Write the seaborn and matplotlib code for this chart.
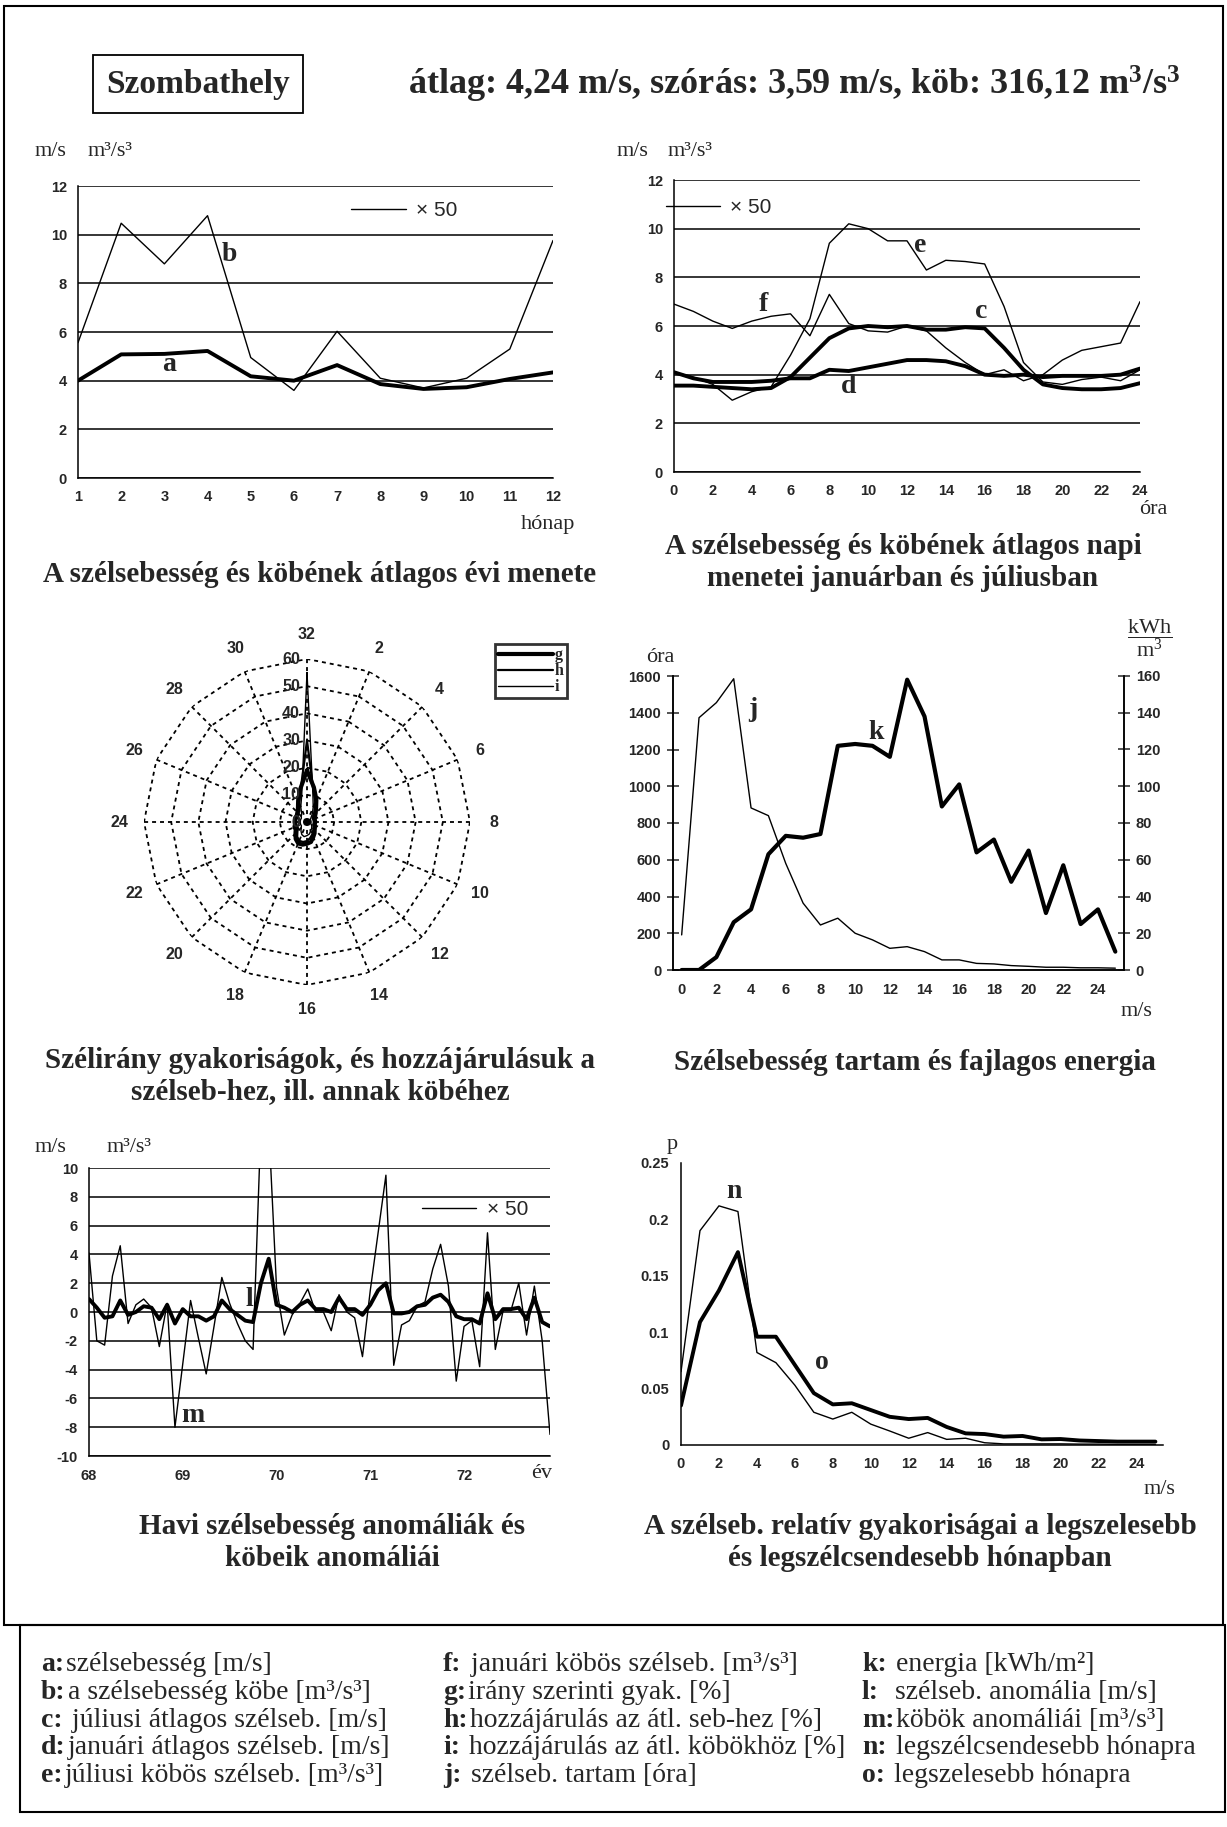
""" Szombathely wind climate sheet redrawn with seaborn. """
import numpy as np
import matplotlib
matplotlib.use('Agg')
import matplotlib.pyplot as plt
from matplotlib.patches import Rectangle
import seaborn as sns

# ---- data ----
months = list(range(1, 13))
a_speed = [4.0, 5.08, 5.1, 5.22, 4.18, 4.0, 4.64, 3.86, 3.66, 3.73, 4.07, 4.34]
b_cube = [5.56, 10.47, 8.8, 10.78, 4.95, 3.6, 6.03, 4.1, 3.7, 4.1, 5.3, 9.76]

hours = list(range(0, 25))
c_july = [3.55, 3.55, 3.5, 3.45, 3.4, 3.45, 3.9, 4.7, 5.5, 5.9, 6.0, 5.95, 6.0,
          5.85, 5.85, 5.95, 5.9, 5.1, 4.2, 3.6, 3.45, 3.4, 3.4, 3.45, 3.65]
d_jan = [4.1, 3.85, 3.7, 3.7, 3.7, 3.75, 3.85, 3.85, 4.2, 4.15, 4.3, 4.45, 4.6,
         4.6, 4.55, 4.35, 4.0, 3.95, 4.0, 3.9, 3.95, 3.95, 3.95, 4.0, 4.25]
e_july_cube = [4.1, 3.9, 3.6, 2.95, 3.3, 3.5, 4.8, 6.3, 9.4, 10.2, 10.0, 9.5, 9.5,
               8.3, 8.7, 8.65, 8.55, 6.8, 4.5, 3.7, 3.6, 3.8, 3.9, 3.75, 4.2]
f_jan_cube = [6.9, 6.6, 6.2, 5.9, 6.2, 6.4, 6.5, 5.6, 7.3, 6.1, 5.8, 5.75, 6.0,
              5.8, 5.1, 4.5, 4.0, 4.2, 3.75, 4.0, 4.6, 5.0, 5.15, 5.3, 7.0]

directions = list(range(1, 33))
g_freq = [13, 9, 6, 4.5, 3.5, 3, 3, 3, 3, 3, 3.5, 4, 5, 6, 7.5, 8,
          8.5, 8.5, 7.5, 6, 5, 5, 4.5, 4.5, 4.5, 4.5, 4.5, 5, 6, 8.5, 12.5, 19]
h_speed = [12, 8, 5, 3.5, 2.5, 2.5, 2.5, 2.5, 2.5, 2.5, 3, 3.5, 4, 5, 6, 7,
           7.5, 7.5, 6.5, 5, 4, 4, 4, 4, 4, 4, 4, 4.5, 5, 7.5, 12, 30]
i_cube = [11, 6, 3.5, 2, 1.5, 1.5, 1.5, 1.5, 1.5, 1.5, 2, 2.5, 3, 3.5, 4.5, 5,
          5.5, 5, 4, 3, 2.5, 2.5, 2.5, 2.5, 2.5, 2.5, 2.5, 3, 3.5, 6, 10, 55]
ring_values = [0, 10, 20, 30, 40, 50, 60]

speed_class = list(range(0, 26))
j_hours = [191, 1373, 1455, 1585, 882, 840, 580, 364, 245, 282, 200, 164, 118,
           127, 100, 55, 55, 36, 33, 24, 20, 15, 15, 12, 12, 10]
k_energy = [0, 0, 7, 26, 33, 63, 73, 72, 74, 122, 123, 122, 116,
            158, 138, 89, 101, 64, 71, 48, 65, 31, 57, 25, 33, 10]

month_index = list(range(60))
year_labels = ['68', '69', '70', '71', '72']
l_anom = [0.9, 0.3, -0.4, -0.3, 0.8, -0.2, 0.0, 0.4, 0.3, -0.5, 0.5, -0.8,
          0.2, -0.3, -0.3, -0.6, -0.3, 0.8, 0.2, -0.2, -0.6, -0.7, 2.0, 3.7,
          0.5, 0.3, 0.0, 0.5, 0.8, 0.2, 0.2, 0.0, 1.0, 0.2, 0.2, -0.2,
          0.5, 1.5, 2.0, -0.1, -0.1, 0.0, 0.4, 0.5, 1.0, 1.2, 0.7, -0.3,
          -0.5, -0.5, -0.8, 1.3, -0.5, 0.2, 0.2, 0.3, -0.5, 1.0, -0.7, -1.0]
m_anom = [4.1, -2.0, -2.3, 2.5, 4.6, -0.8, 0.5, 0.9, 0.3, -2.4, 0.6, -8.0,
          -3.6, 0.8, -1.8, -4.3, -1.0, 2.4, 0.6, -0.8, -2.0, -2.6, 13.0, 13.0,
          1.7, -1.6, -0.2, 0.6, 1.6, 0.0, 0.0, -1.3, 1.2, 0.0, -0.4, -3.1,
          1.5, 5.5, 9.5, -3.7, -0.9, -0.6, 0.4, 0.7, 3.0, 4.7, 1.8, -4.8,
          -1.0, -0.6, -3.8, 5.5, -2.6, 0.1, 0.1, 2.0, -1.6, 1.8, -2.0, -8.5]

p_speed = list(range(0, 26))
n_calm = [0.065, 0.19, 0.212, 0.207, 0.082, 0.073, 0.053, 0.029, 0.023, 0.029,
          0.0185, 0.0124, 0.006, 0.011, 0.005, 0.006, 0.002, 0.001, 0.001,
          0.001, 0.001, 0.0008, 0.0008, 0.0005, 0.0005, 0.0005]
o_windy = [0.035, 0.109, 0.137, 0.171, 0.096, 0.096, 0.071, 0.046, 0.036, 0.037,
           0.031, 0.025, 0.023, 0.024, 0.016, 0.0103, 0.0097, 0.0074, 0.008,
           0.005, 0.0053, 0.004, 0.0035, 0.003, 0.003, 0.003]

key_col1 = [('a', 'szélsebesség [m/s]'),
            ('b', 'a szélsebesség köbe [m³/s³]'),
            ('c', ' júliusi átlagos szélseb. [m/s]'),
            ('d', 'januári átlagos szélseb. [m/s]'),
            ('e', 'júliusi köbös szélseb. [m³/s³]')]
key_col2 = [('f', ' januári köbös szélseb. [m³/s³]'),
            ('g', 'irány szerinti gyak. [%]'),
            ('h', 'hozzájárulás az átl. seb-hez [%]'),
            ('i', ' hozzájárulás az átl. köbökhöz [%]'),
            ('j', ' szélseb. tartam [óra]')]
key_col3 = [('k', ' energia [kWh/m²]'),
            ('l', '  szélseb. anomália [m/s]'),
            ('m', 'köbök anomáliái [m³/s³]'),
            ('n', ' legszélcsendesebb hónapra'),
            ('o', ' legszelesebb hónapra')]

# ---- style ----
sns.set_style('white')
plt.rcParams['font.family'] = ['Liberation Serif', 'DejaVu Serif']
plt.rcParams['mathtext.fontset'] = 'custom'
plt.rcParams['mathtext.rm'] = 'Liberation Serif'
plt.rcParams['mathtext.it'] = 'Liberation Serif:italic'
plt.rcParams['mathtext.bf'] = 'Liberation Serif:bold'

W, H = 1227, 1827
fig = plt.figure(figsize=(W / 100, H / 100), dpi=100)
fig.patch.set_facecolor('white')

TF = dict(fontfamily='Liberation Sans', fontweight='bold', fontsize=10.5)
THIN, THICK = 1.0, 2.8
CAP = dict(fontsize=21, fontweight='bold', ha='center', va='center')


def box(l, t, r, b):
    return [l / W, 1 - b / H, (r - l) / W, (b - t) / H]


def ftext(x, y, s, **kw):
    return fig.text(x / W, 1 - y / H, s, **kw)


def letter(ax, x, y, s):
    ax.text(x, y, s, fontsize=20, fontweight='bold', ha='center', va='center')


def frame(ax, sides):
    for side, sp in ax.spines.items():
        sp.set_visible(side in sides)
        sp.set_color('black')
        sp.set_linewidth(1.1)


def times50(ax, line, anchor, loc):
    ax.legend([line], ['× 50'], loc=loc, bbox_to_anchor=anchor, frameon=False,
              handlelength=2.6, handletextpad=0.5, borderpad=0.1,
              prop=dict(family='Liberation Sans', size=15))


# ---- panel 1: annual course ----
ax1 = fig.add_axes(box(78, 186, 553, 478))
sns.lineplot(x=months, y=b_cube, ax=ax1, color='black', linewidth=THIN)
sns.lineplot(x=months, y=a_speed, ax=ax1, color='black', linewidth=THICK)
ax1.set_xlim(1, 12)
ax1.set_ylim(0, 12)
ax1.set_xticks(months, [str(m) for m in months], **TF)
ax1.set_yticks(range(0, 13, 2), [str(v) for v in range(0, 13, 2)], **TF)
ax1.grid(axis='y', color='black', linewidth=1.1)
ax1.tick_params(axis='x', direction='inout', length=9, width=1.1, pad=4)
ax1.tick_params(axis='y', length=0, pad=8)
frame(ax1, ['left', 'bottom'])
times50(ax1, ax1.lines[0], (0.825, 0.915), 'center right')
letter(ax1, 3.1, 4.65, 'a')
letter(ax1, 4.5, 9.2, 'b')
ftext(35, 151, 'm/s', fontsize=16, va='center')
ftext(88, 151, 'm³/s³', fontsize=16, va='center')
ftext(548, 524, 'hónap', fontsize=16, ha='center', va='center')
ftext(320, 574, 'A szélsebesség és köbének átlagos évi menete', **CAP)

# ---- panel 2: daily course ----
ax2 = fig.add_axes(box(674, 180, 1140, 472))
sns.lineplot(x=hours, y=e_july_cube, ax=ax2, color='black', linewidth=THIN)
sns.lineplot(x=hours, y=f_jan_cube, ax=ax2, color='black', linewidth=THIN)
sns.lineplot(x=hours, y=c_july, ax=ax2, color='black', linewidth=THICK)
sns.lineplot(x=hours, y=d_jan, ax=ax2, color='black', linewidth=THICK)
ax2.set_xlim(0, 24)
ax2.set_ylim(0, 12)
ax2.set_xticks(range(0, 25, 2), [str(h) for h in range(0, 25, 2)], **TF)
ax2.set_yticks(range(0, 13, 2), [str(v) for v in range(0, 13, 2)], **TF)
ax2.grid(axis='y', color='black', linewidth=1.1)
ax2.tick_params(axis='x', direction='inout', length=9, width=1.1, pad=4)
ax2.tick_params(axis='y', length=0, pad=8)
frame(ax2, ['left', 'bottom'])
times50(ax2, ax2.lines[0], (-0.045, 0.905), 'center left')
letter(ax2, 12.7, 9.3, 'e')
letter(ax2, 4.6, 6.9, 'f')
letter(ax2, 15.8, 6.6, 'c')
letter(ax2, 9.0, 3.5, 'd')
ftext(617, 151, 'm/s', fontsize=16, va='center')
ftext(668, 151, 'm³/s³', fontsize=16, va='center')
ftext(1153, 509, 'óra', fontsize=16, ha='center', va='center')
ftext(903, 547, 'A szélsebesség és köbének átlagos napi', **CAP)
ftext(903, 579, 'menetei januárban és júliusban', **CAP)

# ---- panel 3: direction rose ----
cx, cy, rad = 307, 822, 163
ax3 = fig.add_axes(box(cx - rad, cy - rad, cx + rad, cy + rad), projection='polar')
ax3.set_theta_zero_location('N')
ax3.set_theta_direction(-1)
ax3.grid(False)
ax3.spines['polar'].set_visible(False)
ax3.set_ylim(0, 60)
ax3.set_yticks([])
step = 2 * np.pi / 32
spokes = np.arange(2, 33, 2)
ax3.set_xticks(spokes * step, [str(d) for d in spokes], **TF)
ax3.tick_params(axis='x', pad=7, labelsize=11.5)
ring_theta = np.append(spokes, spokes[0]) * step
for r in ring_values[1:]:
    ax3.plot(ring_theta, [r] * len(ring_theta), color='black', lw=1.3, ls=(0, (2.2, 2.2)))
for d in spokes:
    ax3.plot([d * step, d * step], [0, 60], color='black', lw=1.3, ls=(0, (2.2, 2.2)))
for r in ring_values:
    ax3.annotate(str(r), xy=(0, r), xytext=(-5, 0), textcoords='offset points',
                 ha='right', va='center', fontfamily='Liberation Sans',
                 fontweight='bold', fontsize=11.5)
closed_theta = np.arange(0, 33) * step
rose_lines = []
for vals, lw in [(i_cube, 1.0), (h_speed, 1.6), (g_freq, 3.0)]:
    closed = [vals[-1]] + list(vals)
    sns.lineplot(x=closed_theta, y=closed, ax=ax3, sort=False, estimator=None,
                 color='black', linewidth=lw)
    rose_lines.append(ax3.lines[-1])
leg = fig.legend(rose_lines[::-1], ['g', 'h', 'i'], loc='upper left',
                 bbox_to_anchor=(495 / W, 1 - 644 / H), frameon=True, fancybox=False,
                 edgecolor='black', handlelength=3.4, handletextpad=0.15,
                 borderpad=0.2, borderaxespad=0.0, labelspacing=0.0,
                 prop=dict(family='Liberation Serif', weight='bold', size=11.5))
leg.get_frame().set_linewidth(2.0)
ftext(320, 1060, 'Szélirány gyakoriságok, és hozzájárulásuk a', **CAP)
ftext(320, 1092, 'szélseb-hez, ill. annak köbéhez', **CAP)

# ---- panel 4: duration and energy ----
ax4 = fig.add_axes(box(673, 676, 1124, 970))
sns.lineplot(x=speed_class, y=j_hours, ax=ax4, color='black', linewidth=THIN)
ax4.set_xlim(-0.5, 25.5)
ax4.set_ylim(0, 1600)
ax4.set_xticks(range(0, 25, 2), [str(v) for v in range(0, 25, 2)], **TF)
ax4.set_xticks(np.arange(-0.5, 26, 2), minor=True)
ax4.set_yticks(range(0, 1601, 200), [str(v) for v in range(0, 1601, 200)], **TF)
ax4.tick_params(axis='x', which='major', length=0, pad=9)
ax4.tick_params(axis='x', which='minor', direction='inout', length=9, width=1.1)
ax4.tick_params(axis='y', direction='inout', length=9, width=1.1, pad=4)
ax4r = ax4.twinx()
sns.lineplot(x=speed_class, y=k_energy, ax=ax4r, color='black', linewidth=3.0)
ax4r.set_ylim(0, 160)
ax4r.set_yticks(range(0, 161, 20), [str(v) for v in range(0, 161, 20)], **TF)
ax4r.tick_params(axis='y', direction='inout', length=9, width=1.1, pad=4)
ax4r.set_ylabel('')
frame(ax4, ['left', 'bottom', 'right'])
frame(ax4r, ['left', 'bottom', 'right'])
letter(ax4, 4.1, 1420, 'j')
letter(ax4, 11.2, 1290, 'k')
ftext(660, 658, 'óra', fontsize=16, ha='center', va='center')
ftext(1150, 638, r'$\dfrac{\mathrm{kWh}}{\mathrm{m}^3}$', fontsize=16,
      ha='center', va='center')
ftext(1136, 1011, 'm/s', fontsize=16, ha='center', va='center')
ftext(915, 1062, 'Szélsebesség tartam és fajlagos energia', **CAP)

# ---- panel 5: monthly anomalies ----
ax5 = fig.add_axes(box(89, 1168, 550, 1456))
sns.lineplot(x=month_index, y=m_anom, ax=ax5, color='black', linewidth=THIN)
sns.lineplot(x=month_index, y=l_anom, ax=ax5, color='black', linewidth=THICK)
ax5.set_xlim(0, 59)
ax5.set_ylim(-10, 10)
ax5.set_xticks(range(0, 60, 12), year_labels, **TF)
ax5.set_xticks(range(12, 60, 12), minor=True)
ax5.set_yticks(range(-10, 11, 2), [str(v) for v in range(-10, 11, 2)], **TF)
ax5.grid(axis='y', color='black', linewidth=1.1)
ax5.tick_params(axis='x', which='major', length=0, pad=9)
ax5.tick_params(axis='x', which='minor', direction='inout', length=9, width=1.1)
ax5.tick_params(axis='y', length=0, pad=8)
frame(ax5, ['left', 'bottom'])
times50(ax5, ax5.lines[0], (0.98, 0.855), 'center right')
letter(ax5, 20.5, 0.9, 'l')
letter(ax5, 13.3, -7.2, 'm')
ftext(35, 1148, 'm/s', fontsize=16, va='center')
ftext(107, 1148, 'm³/s³', fontsize=16, va='center')
ftext(542, 1474, 'év', fontsize=16, ha='center', va='center')
ftext(332, 1526, 'Havi szélsebesség anomáliák és', **CAP)
ftext(332, 1558, 'köbeik anomáliái', **CAP)

# ---- panel 6: relative frequencies ----
ax6 = fig.add_axes(box(681, 1163, 1163, 1445))
sns.lineplot(x=p_speed, y=n_calm, ax=ax6, color='black', linewidth=THIN)
sns.lineplot(x=p_speed, y=o_windy, ax=ax6, color='black', linewidth=THICK)
ax6.set_xlim(0, 25.4)
ax6.set_ylim(0, 0.25)
ax6.set_xticks(range(0, 25, 2), [str(v) for v in range(0, 25, 2)], **TF)
p_ticks = [0, 0.05, 0.1, 0.15, 0.2, 0.25]
ax6.set_yticks(p_ticks, ['0', '0.05', '0.1', '0.15', '0.2', '0.25'], **TF)
ax6.tick_params(axis='both', direction='inout', length=9, width=1.1, pad=4)
frame(ax6, ['left', 'bottom'])
letter(ax6, 2.8, 0.225, 'n')
letter(ax6, 7.4, 0.073, 'o')
ftext(672, 1145, 'p', fontsize=16, ha='center', va='center')
ftext(1159, 1489, 'm/s', fontsize=16, ha='center', va='center')
ftext(920, 1526, 'A szélseb. relatív gyakoriságai a legszelesebb', **CAP)
ftext(920, 1558, 'és legszélcsendesebb hónapban', **CAP)

# ---- header, frames and key ----
ftext(198, 84, 'Szombathely', fontsize=24, fontweight='bold', ha='center', va='center',
      bbox=dict(boxstyle='square,pad=0.4', fc='white', ec='black', lw=1.3))
ftext(408, 84, r'átlag: 4,24 m/s, szórás: 3,59 m/s, köb: 316,12 m$^\mathbf{3}$/s$^\mathbf{3}$',
      fontsize=26, fontweight='bold', va='center')
fig.add_artist(Rectangle((4 / W, 1 - 1625 / H), 1219 / W, 1619 / H,
                         transform=fig.transFigure, fill=False, ec='black', lw=1.5))
fig.add_artist(Rectangle((20 / W, 1 - 1812 / H), 1205 / W, 187 / H,
                         transform=fig.transFigure, fill=False, ec='black', lw=1.5))
renderer = fig.canvas.get_renderer()
for x0, col in [(41, key_col1), (443, key_col2), (862, key_col3)]:
    for row, (key, desc) in enumerate(col):
        y = 1671 + 27.8 * row
        t = ftext(x0, y, key + ':', fontsize=20, fontweight='bold', va='baseline')
        right = t.get_window_extent(renderer).x1
        fig.text((right + 2) / fig.bbox.width, 1 - y / H, desc, fontsize=20,
                 va='baseline')

fig.savefig('out.png', dpi=100, facecolor='white')
